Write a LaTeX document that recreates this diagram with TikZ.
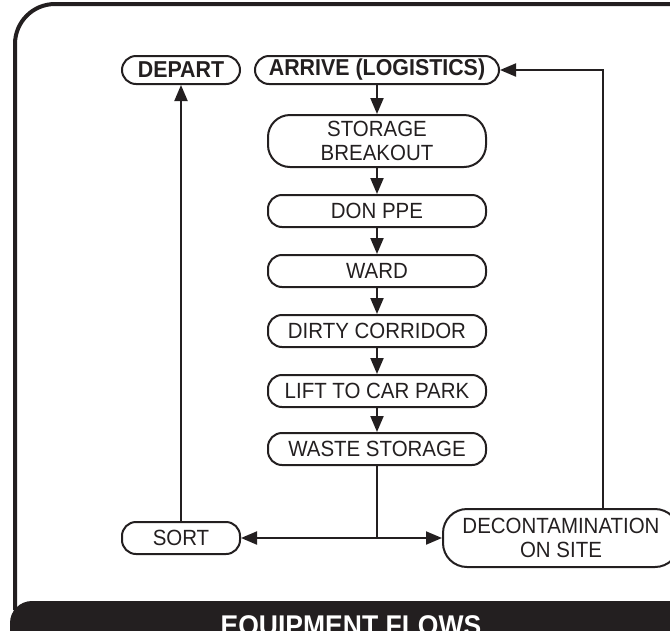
\documentclass[tikz,border=0pt]{standalone}
\usepackage{fontspec}
\setmainfont[FakeStretch=0.93]{Liberation Sans}
\usetikzlibrary{arrows.meta}
\definecolor{ink}{HTML}{231F20}
\tikzset{
  flownode/.style = {draw=ink, text=ink, line width=2pt, rounded corners=14pt, align=center,
    inner sep=0pt, minimum height=30pt, font=\fontsize{22}{24}\selectfont},
  midbox/.style = {flownode, minimum width=218pt},
  sidebox/.style = {flownode, minimum width=118pt},
  boldtxt/.style = {font=\bfseries\fontsize{23}{25}\selectfont},
  flow/.style = {draw=ink, line width=2pt}
}

\begin{document}
\begin{tikzpicture}[x=1pt,y=-1pt,>={Triangle[length=16pt,width=13pt]}]
\useasboundingbox (0,0) rectangle (670,630);

% frame and banner
\draw[ink, line width=4pt, rounded corners=40pt] (15,610) -- (15,4) -- (720,4);
\fill[ink, rounded corners=22pt] (10,601) rectangle (740,690);
\node[anchor=north, inner sep=0pt, text=white, font=\bfseries\fontsize{28.5}{30}\selectfont]
  (title) at (351,615) {EQUIPMENT FLOWS};

\node [sidebox, boldtxt, minimum height=28pt] (depart) at (181,70) {DEPART};
\node [flownode, boldtxt, minimum height=28pt, minimum width=244pt] (arrive) at (377,70) {ARRIVE (LOGISTICS)};
\node [midbox, minimum height=52pt, rounded corners=22pt] (storage) at (377,141) {STORAGE\\BREAKOUT};
\node [midbox, minimum height=32pt] (donppe) at (377,211) {DON PPE};
\node [midbox, minimum height=32pt] (ward) at (377,271) {WARD};
\node [midbox, minimum height=32pt] (dirty) at (377,331) {DIRTY CORRIDOR};
\node [midbox, minimum height=32pt] (lift) at (377,391) {LIFT TO CAR PARK};
\node [midbox, minimum height=32pt] (waste) at (377,449) {WASTE STORAGE};
\node [sidebox, minimum height=32pt] (sort) at (181,538) {SORT};
\node [flownode, minimum height=58pt, minimum width=236pt, rounded corners=24pt] (decon) at (561,538) {DECONTAMINATION\\ON SITE};

\foreach \a/\b in {arrive/storage, storage/donppe, donppe/ward, ward/dirty, dirty/lift, lift/waste}
  \draw[flow, ->] (\a) -- (\b);

\draw[flow] (waste.south) -- (waste.south |- sort.east);
\draw[flow, <->] (sort.east) -- (decon.west);
\draw[flow, ->] (sort) -- (depart);
\coordinate (turn) at (603,70);
\draw[flow, ->] (turn |- decon.north) -- (turn) -- (arrive.east);
\end{tikzpicture}
\end{document}
